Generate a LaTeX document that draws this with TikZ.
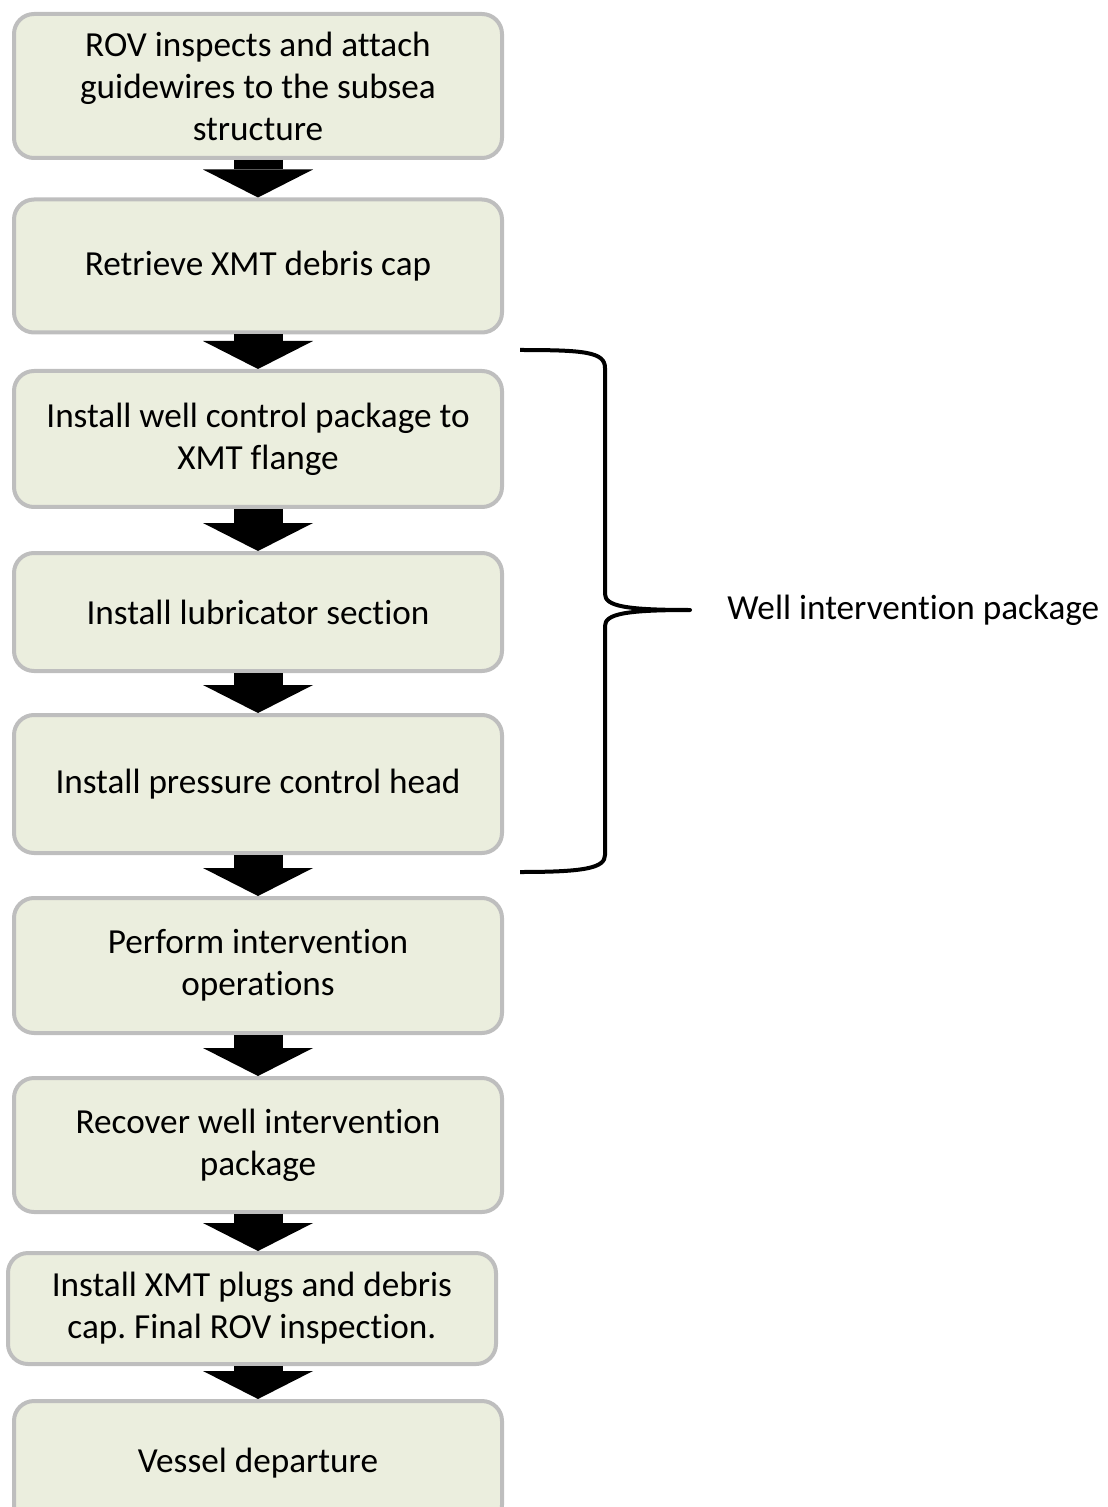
\documentclass[tikz,border=0pt]{standalone}
\usepackage{fontspec}
\setmainfont{Carlito}[Ligatures={NoCommon}]
\usepackage{tikz}
\usetikzlibrary{
  arrows.meta,
  positioning
}
\definecolor{stepfill}{RGB}{235,238,222}
\definecolor{stepline}{RGB}{190,190,190}
\frenchspacing

\begin{document}
\begin{tikzpicture}[x=0.5pt,y=-0.5pt,every text node part/.style={align=center},
  stepbox/.style={rectangle,rounded corners=10pt,draw=stepline,line width=2pt,fill=stepfill,minimum width=244pt,inner sep=0pt,font=\fontsize{17.6}{21}\selectfont},
  blockarrow/.style={line width=24.5pt,-{Triangle[width=55pt,length=14pt,line width=0pt]}}]
  \useasboundingbox (0,0) rectangle (1107,1507);
  \node[stepbox,minimum height=72pt] (1) at (258,86) {ROV inspects and attach\\guidewires to the subsea\\structure};
  \node[stepbox,minimum height=66.5pt] (2) at (258,266) {Retrieve XMT debris cap};
  \node[stepbox,minimum height=68pt] (3) at (258,439) {Install well control package to\\XMT flange};
  \node[stepbox,minimum height=59pt] (4) at (258,612) {Install lubricator section};
  \node[stepbox,minimum height=69pt] (5) at (258,784) {Install pressure control head};
  \node[stepbox,minimum height=67.5pt] (6) at (258,965.5) {Perform intervention\\operations};
  \node[stepbox,minimum height=67pt] (7) at (258,1145) {Recover well intervention\\package};
  \node[stepbox,minimum height=55.5pt] (8) at (252,1308.5) {Install XMT plugs and debris\\cap. Final ROV inspection.};
  \node[stepbox,minimum height=62pt] (9) at (258,1463) {Vessel departure};
  \draw[blockarrow] (1.south) -- (2.north);
  \draw[blockarrow] (2.south) -- (3.north);
  \draw[blockarrow] (3.south) -- (4.north);
  \draw[blockarrow] (4.south) -- (5.north);
  \draw[blockarrow] (5.south) -- (6.north);
  \draw[blockarrow] (6.south) -- (7.north);
  \draw[blockarrow] (7.south) -- (7.south |- 8.north);
  \draw[blockarrow] (7.south |- 8.south) -- (9.north);

  % brace round the package steps
  \coordinate (btop) at (520,350);
  \coordinate (btip) at (690,610);
  \coordinate (bbot) at (520,872);
  \node[anchor=west,inner sep=0pt,font=\fontsize{17.6}{21}\selectfont] (10) at (727,610) {Well intervention package};
  \draw[line width=2pt,line join=round] (btop) .. controls (585,350) and (605,352) .. (605,368) -- (605,594)
    .. controls (605,606) and (625,610) .. (btip)
    .. controls (625,610) and (605,614) .. (605,626) -- (605,855)
    .. controls (605,868) and (585,872) .. (bbot);

\end{tikzpicture}
\end{document}
